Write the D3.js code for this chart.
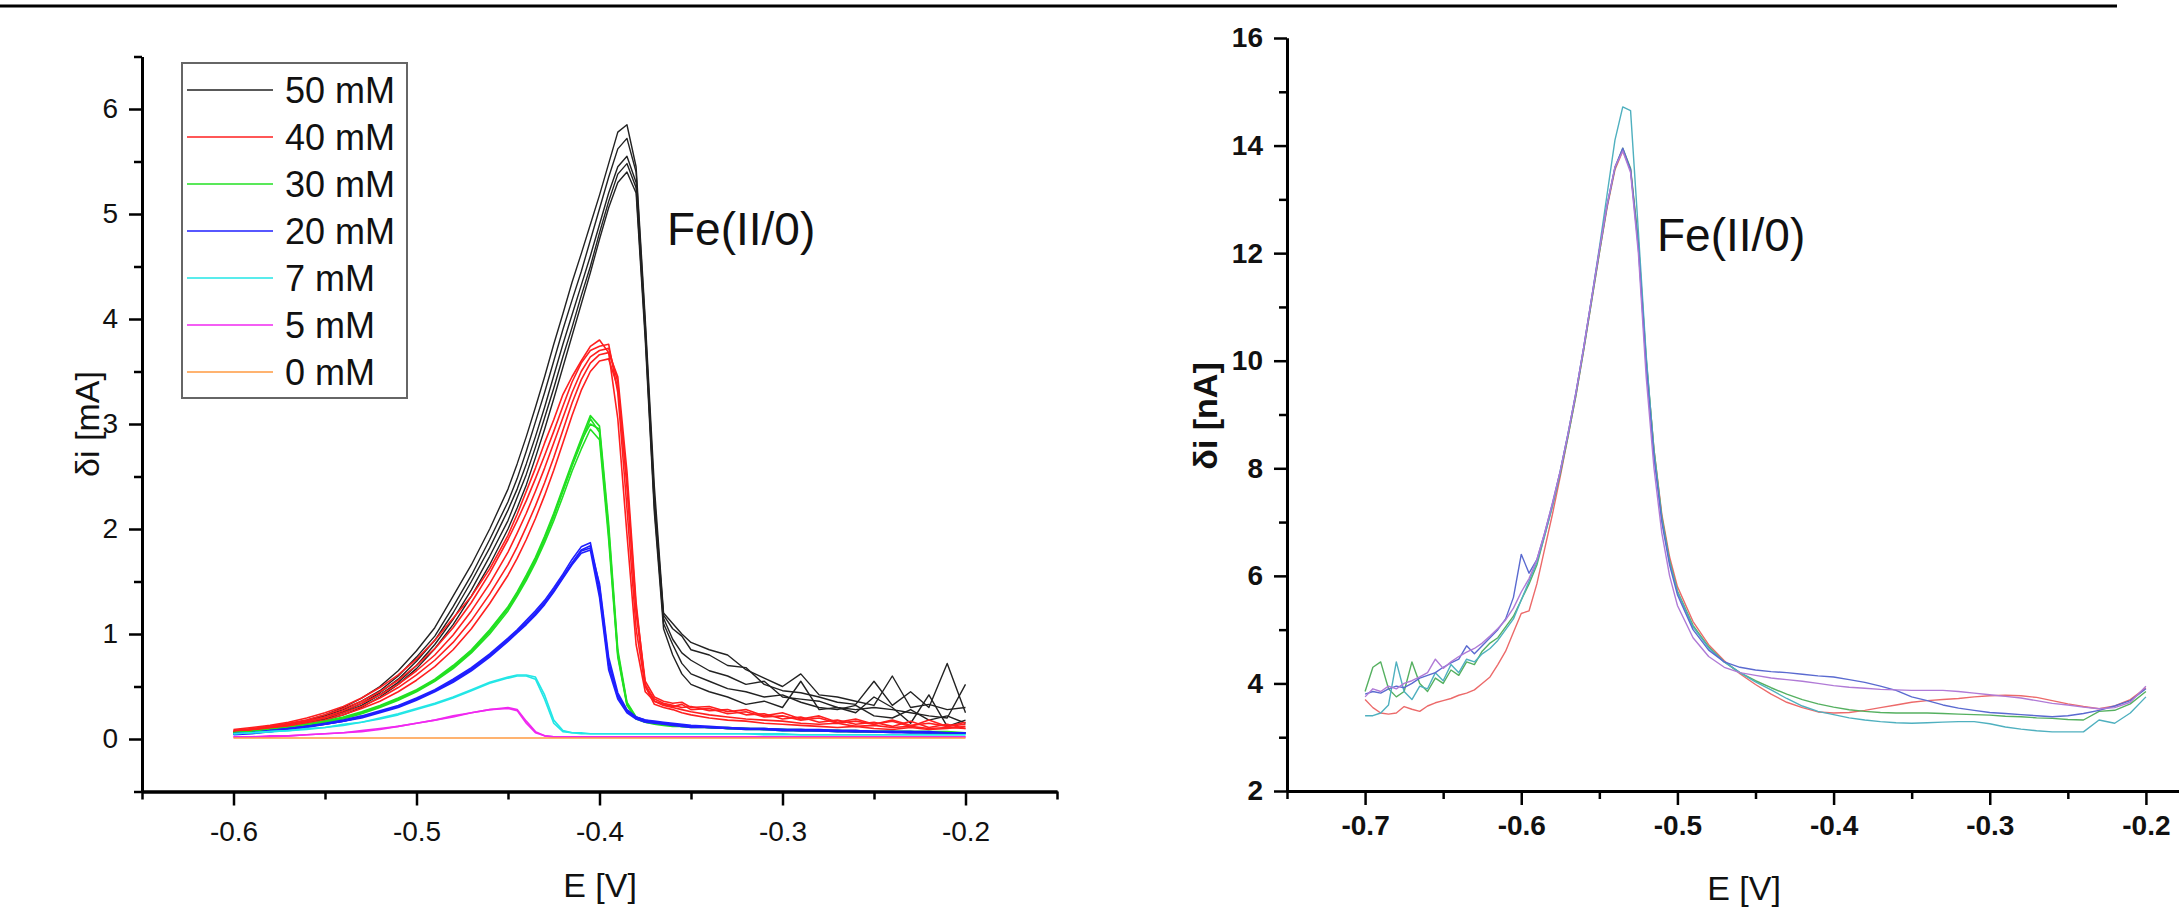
<!DOCTYPE html>
<html>
<head>
<meta charset="utf-8">
<script src="https://cdn.jsdelivr.net/npm/d3@7"></script>
<style>
body { margin: 0; background: #fff; }
svg text { font-family: "Liberation Sans", Arial, sans-serif; fill: #111; }
</style>
</head>
<body>
<svg id="chart" width="2179" height="911"></svg>
<script>
// ---- left panel data (E in V, delta i in mA) ----
const leftE = [-0.600,-0.590,-0.580,-0.570,-0.560,-0.550,-0.540,-0.530,-0.520,-0.510,-0.500,-0.490,-0.480,-0.470,-0.460,-0.450,
	-0.445,-0.440,-0.435,-0.430,-0.425,-0.420,-0.415,-0.410,-0.405,-0.400,-0.395,-0.390,-0.385,-0.380,-0.375,-0.370,-0.365,-0.360,-0.355,-0.350,
	-0.340,-0.330,-0.320,-0.310,-0.300,-0.290,-0.280,-0.270,-0.260,-0.250,-0.240,-0.230,-0.220,-0.210,-0.200];

const mM50 = [
	[0.07,0.09,0.11,0.14,0.18,0.23,0.30,0.39,0.50,0.65,0.84,1.06,1.36,1.66,2.00,2.38,2.62,2.88,3.16,3.45,3.76,4.05,4.35,4.62,4.90,5.18,5.48,5.78,5.85,5.45,4.00,2.40,1.20,1.10,1.00,0.92,0.85,0.80,0.66,0.58,0.50,0.62,0.42,0.40,0.36,0.32,0.60,0.30,0.33,0.28,0.30],
	[0.06,0.08,0.10,0.13,0.17,0.22,0.28,0.36,0.46,0.60,0.78,0.98,1.26,1.56,1.90,2.26,2.48,2.74,3.02,3.30,3.60,3.90,4.18,4.45,4.75,5.05,5.35,5.62,5.72,5.40,3.95,2.30,1.18,1.05,0.98,0.85,0.80,0.70,0.68,0.52,0.46,0.44,0.40,0.35,0.33,0.55,0.32,0.45,0.30,0.72,0.25],
	[0.07,0.08,0.10,0.12,0.16,0.20,0.26,0.34,0.44,0.57,0.74,0.94,1.20,1.50,1.82,2.18,2.38,2.62,2.88,3.16,3.46,3.76,4.04,4.32,4.60,4.90,5.20,5.45,5.55,5.30,3.90,2.25,1.15,0.95,0.82,0.75,0.65,0.60,0.52,0.55,0.40,0.38,0.36,0.30,0.28,0.30,0.28,0.25,0.22,0.20,0.52],
	[0.06,0.07,0.09,0.12,0.15,0.19,0.25,0.32,0.42,0.54,0.70,0.90,1.14,1.42,1.74,2.08,2.30,2.52,2.78,3.06,3.34,3.64,3.92,4.22,4.50,4.82,5.12,5.38,5.48,5.25,3.85,2.20,1.10,0.90,0.72,0.62,0.55,0.48,0.45,0.40,0.42,0.35,0.30,0.28,0.32,0.22,0.20,0.28,0.18,0.22,0.15],
	[0.06,0.07,0.09,0.11,0.14,0.18,0.23,0.30,0.40,0.52,0.67,0.86,1.09,1.36,1.66,2.00,2.20,2.42,2.68,2.95,3.24,3.54,3.84,4.14,4.44,4.76,5.06,5.30,5.40,5.20,3.80,2.15,1.05,0.80,0.62,0.52,0.45,0.40,0.33,0.36,0.30,0.55,0.28,0.30,0.25,0.40,0.30,0.15,0.42,0.12,0.18]
];
const mM40 = [
	[0.09,0.11,0.13,0.16,0.20,0.25,0.31,0.39,0.49,0.61,0.76,0.94,1.15,1.36,1.62,1.94,2.14,2.36,2.58,2.82,3.04,3.28,3.45,3.60,3.74,3.80,3.68,3.05,1.95,0.90,0.45,0.36,0.33,0.31,0.33,0.28,0.29,0.24,0.26,0.21,0.22,0.18,0.20,0.15,0.17,0.14,0.18,0.13,0.15,0.12,0.14],
	[0.08,0.10,0.12,0.15,0.18,0.23,0.29,0.36,0.45,0.56,0.70,0.86,1.06,1.30,1.58,1.90,2.08,2.27,2.48,2.70,2.93,3.17,3.40,3.58,3.70,3.74,3.76,3.30,2.20,1.05,0.50,0.38,0.34,0.32,0.30,0.31,0.27,0.28,0.23,0.24,0.19,0.21,0.16,0.18,0.14,0.16,0.12,0.17,0.11,0.14,0.10],
	[0.08,0.09,0.11,0.14,0.17,0.21,0.27,0.34,0.42,0.52,0.65,0.80,0.99,1.22,1.48,1.78,1.96,2.15,2.36,2.58,2.82,3.06,3.30,3.50,3.64,3.70,3.72,3.40,2.40,1.20,0.52,0.36,0.32,0.30,0.28,0.26,0.23,0.21,0.19,0.18,0.17,0.15,0.14,0.15,0.12,0.13,0.11,0.12,0.10,0.11,0.10],
	[0.07,0.09,0.10,0.13,0.16,0.20,0.25,0.31,0.39,0.49,0.61,0.75,0.92,1.13,1.38,1.66,1.83,2.02,2.22,2.44,2.68,2.94,3.20,3.42,3.58,3.66,3.68,3.45,2.55,1.30,0.50,0.33,0.30,0.28,0.25,0.23,0.20,0.18,0.17,0.15,0.14,0.13,0.12,0.11,0.12,0.10,0.09,0.11,0.09,0.10,0.12],
	[0.07,0.08,0.10,0.12,0.15,0.18,0.23,0.29,0.36,0.45,0.56,0.69,0.85,1.05,1.29,1.56,1.72,1.90,2.10,2.32,2.56,2.82,3.08,3.32,3.50,3.60,3.62,3.35,2.45,1.25,0.55,0.40,0.36,0.34,0.35,0.30,0.31,0.26,0.28,0.22,0.25,0.19,0.22,0.16,0.19,0.14,0.17,0.12,0.18,0.12,0.16]
];
const mM30 = [
	[0.06,0.07,0.09,0.11,0.13,0.16,0.20,0.25,0.31,0.38,0.46,0.56,0.68,0.83,1.02,1.24,1.38,1.53,1.70,1.90,2.12,2.36,2.60,2.82,3.05,2.92,1.95,0.80,0.33,0.20,0.17,0.15,0.14,0.13,0.12,0.12,0.11,0.10,0.10,0.09,0.09,0.08,0.08,0.08,0.07,0.07,0.07,0.07,0.07,0.06,0.06],
	[0.06,0.07,0.09,0.11,0.14,0.17,0.21,0.26,0.32,0.39,0.47,0.57,0.70,0.85,1.04,1.26,1.40,1.56,1.73,1.93,2.15,2.39,2.63,2.86,3.08,2.98,2.05,0.85,0.35,0.21,0.17,0.15,0.14,0.13,0.13,0.12,0.11,0.11,0.10,0.10,0.09,0.09,0.08,0.08,0.08,0.07,0.07,0.07,0.07,0.07,0.06],
	[0.05,0.06,0.08,0.10,0.13,0.15,0.19,0.24,0.30,0.37,0.45,0.55,0.67,0.82,1.00,1.22,1.36,1.51,1.68,1.87,2.08,2.31,2.55,2.76,2.95,2.85,1.90,0.78,0.32,0.19,0.16,0.14,0.13,0.12,0.12,0.11,0.11,0.10,0.09,0.09,0.08,0.08,0.08,0.07,0.07,0.07,0.07,0.06,0.06,0.06,0.06],
	[0.06,0.07,0.08,0.10,0.13,0.16,0.20,0.25,0.31,0.38,0.46,0.56,0.69,0.84,1.03,1.25,1.39,1.54,1.71,1.91,2.13,2.37,2.61,2.84,3.00,2.95,2.00,0.82,0.34,0.20,0.16,0.15,0.14,0.13,0.12,0.12,0.11,0.10,0.10,0.09,0.09,0.08,0.08,0.08,0.07,0.07,0.07,0.07,0.06,0.06,0.06]
];
const mM20 = [
	[0.05,0.06,0.08,0.10,0.12,0.14,0.17,0.21,0.26,0.31,0.38,0.46,0.56,0.67,0.80,0.95,1.03,1.11,1.20,1.30,1.42,1.55,1.68,1.80,1.84,1.40,0.70,0.40,0.26,0.20,0.17,0.16,0.15,0.14,0.13,0.12,0.11,0.10,0.10,0.09,0.09,0.08,0.08,0.08,0.07,0.07,0.07,0.06,0.06,0.06,0.06],
	[0.05,0.06,0.08,0.10,0.12,0.15,0.18,0.22,0.27,0.32,0.39,0.47,0.57,0.68,0.81,0.96,1.04,1.13,1.22,1.32,1.44,1.57,1.71,1.83,1.87,1.45,0.74,0.42,0.27,0.21,0.18,0.16,0.15,0.14,0.13,0.12,0.11,0.11,0.10,0.10,0.09,0.09,0.08,0.08,0.08,0.07,0.07,0.07,0.06,0.06,0.06],
	[0.04,0.05,0.07,0.09,0.11,0.14,0.17,0.20,0.25,0.30,0.37,0.45,0.54,0.65,0.78,0.93,1.01,1.09,1.18,1.28,1.40,1.53,1.66,1.77,1.80,1.35,0.66,0.38,0.25,0.19,0.16,0.15,0.14,0.13,0.12,0.11,0.11,0.10,0.09,0.09,0.08,0.08,0.08,0.07,0.07,0.07,0.06,0.06,0.06,0.06,0.05],
	[0.05,0.06,0.07,0.09,0.12,0.14,0.17,0.21,0.26,0.31,0.38,0.46,0.55,0.66,0.79,0.94,1.02,1.10,1.19,1.29,1.41,1.54,1.67,1.79,1.82,1.48,0.78,0.44,0.28,0.21,0.18,0.17,0.16,0.15,0.14,0.13,0.12,0.11,0.10,0.10,0.09,0.09,0.09,0.08,0.08,0.07,0.07,0.07,0.07,0.06,0.06]
];
const mM7 = [
	[0.05,0.06,0.07,0.08,0.09,0.11,0.13,0.16,0.19,0.23,0.28,0.33,0.39,0.46,0.53,0.58,0.60,0.60,0.57,0.38,0.15,0.07,0.06,0.05,0.05,0.05,0.05,0.05,0.05,0.05,0.05,0.05,0.05,0.05,0.05,0.05,0.05,0.05,0.05,0.04,0.04,0.04,0.04,0.04,0.04,0.04,0.04,0.04,0.04,0.04,0.04],
	[0.05,0.06,0.07,0.08,0.10,0.11,0.14,0.16,0.20,0.24,0.29,0.34,0.40,0.47,0.54,0.59,0.61,0.61,0.59,0.42,0.18,0.08,0.06,0.06,0.05,0.05,0.05,0.05,0.05,0.05,0.05,0.05,0.05,0.05,0.05,0.05,0.05,0.05,0.05,0.05,0.05,0.04,0.04,0.04,0.04,0.04,0.04,0.04,0.04,0.04,0.04]
];
const mM5 = [
	[0.02,0.02,0.03,0.03,0.04,0.05,0.06,0.07,0.09,0.12,0.15,0.18,0.21,0.25,0.28,0.29,0.27,0.15,0.06,0.03,0.02,0.02,0.02,0.02,0.02,0.02,0.02,0.02,0.02,0.02,0.02,0.02,0.02,0.02,0.02,0.02,0.02,0.02,0.02,0.02,0.02,0.02,0.02,0.02,0.02,0.02,0.02,0.02,0.02,0.02,0.02],
	[0.02,0.02,0.02,0.03,0.04,0.05,0.06,0.08,0.10,0.12,0.15,0.18,0.22,0.25,0.28,0.30,0.28,0.17,0.07,0.03,0.02,0.02,0.02,0.02,0.02,0.02,0.02,0.02,0.02,0.02,0.02,0.02,0.02,0.02,0.02,0.02,0.02,0.02,0.02,0.02,0.02,0.02,0.02,0.02,0.02,0.02,0.02,0.02,0.02,0.02,0.02]
];
const mM0 = [
	[0.01,0.01,0.01,0.01,0.01,0.01,0.01,0.01,0.01,0.01,0.01,0.01,0.01,0.01,0.01,0.01,0.01,0.01,0.01,0.01,0.01,0.01,0.01,0.01,0.01,0.01,0.01,0.01,0.01,0.01,0.01,0.01,0.01,0.01,0.01,0.01,0.01,0.01,0.01,0.01,0.01,0.01,0.01,0.01,0.01,0.01,0.01,0.01,0.01,0.01,0.01]
];

const legendLabels = ['50 mM', '40 mM', '30 mM', '20 mM', '7 mM', '5 mM', '0 mM'];
const leftColors = ['#222222', '#ff1f1f', '#22e022', '#1f1fff', '#22e6e6', '#f028f0', '#ff9a40'];
const leftGroups = [mM50, mM40, mM30, mM20, mM7, mM5, mM0];

const leftXTicks = [-0.6, -0.5, -0.4, -0.3, -0.2];
const leftXMinor = [-0.65, -0.55, -0.45, -0.35, -0.25, -0.15];
const leftYTicks = [0, 1, 2, 3, 4, 5, 6];
const leftYMinor = [-0.5, 0.5, 1.5, 2.5, 3.5, 4.5, 5.5, 6.5];

// ---- right panel data (E in V, delta i in nA) ----
const rightE = [-0.700,-0.695,-0.690,-0.685,-0.680,-0.675,-0.670,-0.665,-0.660,-0.655,-0.650,-0.645,-0.640,-0.635,-0.630,-0.625,-0.620,-0.615,-0.610,-0.605,
	-0.600,-0.595,-0.590,-0.585,-0.580,-0.575,-0.570,-0.565,-0.560,-0.555,-0.550,-0.545,-0.540,-0.535,-0.530,-0.525,-0.520,-0.515,-0.510,-0.505,-0.500,
	-0.490,-0.480,-0.470,-0.460,-0.450,-0.440,-0.430,-0.420,-0.410,-0.400,-0.390,-0.380,-0.370,-0.360,-0.350,-0.340,-0.330,-0.320,-0.310,-0.300,
	-0.290,-0.280,-0.270,-0.260,-0.250,-0.240,-0.230,-0.220,-0.210,-0.200];

const scanRed = [3.70,3.55,3.45,3.43,3.45,3.57,3.52,3.48,3.58,3.64,3.68,3.72,3.78,3.82,3.88,4.00,4.12,4.35,4.60,4.95,
	5.30,5.35,5.85,6.50,7.15,7.85,8.60,9.35,10.20,11.10,12.00,12.85,13.55,13.90,13.55,12.20,10.00,8.35,7.15,6.35,5.80,
	5.15,4.72,4.42,4.18,3.98,3.80,3.65,3.55,3.47,3.45,3.46,3.50,3.55,3.60,3.65,3.68,3.70,3.72,3.75,3.77,
	3.78,3.77,3.74,3.68,3.62,3.57,3.53,3.58,3.70,3.92];
const scanGreen = [3.85,4.30,4.40,3.90,3.75,3.85,4.40,4.00,3.85,4.10,4.00,4.25,4.15,4.40,4.35,4.60,4.75,4.85,5.05,5.25,
	5.55,5.85,6.20,6.75,7.30,7.90,8.60,9.35,10.20,11.10,12.00,12.88,13.58,13.95,13.58,12.20,10.05,8.35,7.10,6.28,5.72,
	5.08,4.68,4.40,4.20,4.05,3.92,3.80,3.70,3.62,3.56,3.51,3.48,3.46,3.45,3.45,3.45,3.44,3.43,3.42,3.41,
	3.39,3.38,3.36,3.35,3.33,3.32,3.48,3.50,3.62,3.85];
const scanTeal = [3.40,3.40,3.45,3.60,4.40,3.85,3.70,3.95,3.90,4.20,4.05,4.35,4.20,4.45,4.40,4.55,4.65,4.80,5.00,5.20,
	5.55,5.90,6.25,6.75,7.30,7.95,8.65,9.40,10.25,11.15,12.10,13.10,14.10,14.72,14.65,12.40,10.10,8.30,7.05,6.25,5.70,
	5.05,4.66,4.40,4.20,4.03,3.88,3.72,3.58,3.48,3.42,3.36,3.32,3.29,3.27,3.26,3.27,3.28,3.29,3.29,3.25,
	3.19,3.15,3.12,3.10,3.10,3.10,3.32,3.26,3.45,3.75];
const scanBlue = [3.80,3.85,3.82,3.90,3.95,3.92,4.00,4.10,4.15,4.20,4.30,4.38,4.45,4.70,4.55,4.70,4.85,5.00,5.20,5.60,
	6.40,6.05,6.30,6.80,7.35,7.95,8.65,9.40,10.25,11.15,12.05,12.90,13.60,13.95,13.55,12.10,9.90,8.20,7.00,6.20,5.65,
	5.00,4.62,4.40,4.30,4.25,4.22,4.20,4.17,4.14,4.12,4.07,4.02,3.95,3.87,3.75,3.68,3.60,3.54,3.50,3.46,
	3.44,3.42,3.40,3.38,3.40,3.44,3.50,3.58,3.68,3.90];
const scanViolet = [3.75,3.90,3.85,3.95,3.90,4.00,4.05,4.12,4.20,4.45,4.28,4.40,4.50,4.58,4.65,4.75,4.88,5.02,5.18,5.40,
	5.70,5.95,6.30,6.80,7.35,7.95,8.65,9.40,10.25,11.15,12.05,12.90,13.60,13.90,13.50,12.00,9.70,8.00,6.80,6.00,5.45,
	4.85,4.50,4.30,4.20,4.15,4.10,4.07,4.04,4.00,3.96,3.93,3.91,3.89,3.88,3.87,3.87,3.87,3.85,3.82,3.79,
	3.76,3.73,3.68,3.63,3.60,3.56,3.53,3.55,3.65,3.95];

const rightScans = [scanRed, scanGreen, scanTeal, scanBlue, scanViolet];
const rightColors = ['#ec6a6a', '#55b060', '#4fb0bf', '#5a6ad0', '#b07ad6'];

const rightXTicks = [-0.7, -0.6, -0.5, -0.4, -0.3, -0.2];
const rightXMinor = [-0.75, -0.65, -0.55, -0.45, -0.35, -0.25, -0.15];
const rightYTicks = [2, 4, 6, 8, 10, 12, 14, 16];
const rightYMinor = [3, 5, 7, 9, 11, 13, 15];

// ---- drawing ----
const svg = d3.select('#chart');

svg.append('line')
	.attr('x1', 0).attr('x2', 2117).attr('y1', 6).attr('y2', 6)
	.attr('stroke', '#000').attr('stroke-width', 3);

function drawAxes(x, y, opts) {
	const g = svg.append('g');
	const bottom = y.range()[0];
	const left = x.range()[0];

	g.append('g').attr('transform', `translate(0,${bottom})`)
		.call(d3.axisBottom(x).tickValues(opts.xMinor).tickSize(8).tickSizeOuter(0).tickFormat(''));
	g.append('g').attr('transform', `translate(${left},0)`)
		.call(d3.axisLeft(y).tickValues(opts.yMinor).tickSize(8).tickSizeOuter(0).tickFormat(''));

	g.append('g').attr('transform', `translate(0,${bottom})`)
		.call(d3.axisBottom(x).tickValues(opts.xTicks).tickSize(14).tickSizeOuter(0).tickPadding(opts.xPad)
			.tickFormat(d => d.toFixed(1)));
	g.append('g').attr('transform', `translate(${left},0)`)
		.call(d3.axisLeft(y).tickValues(opts.yTicks).tickSize(13).tickSizeOuter(0).tickPadding(11)
			.tickFormat(d => d));

	g.selectAll('.domain').attr('stroke', '#000').attr('stroke-width', 3);
	g.selectAll('.tick line').attr('stroke', '#000').attr('stroke-width', 2.5);
	g.selectAll('.tick text')
		.attr('font-size', 28)
		.attr('font-weight', opts.bold ? 'bold' : 'normal')
		.attr('font-family', '"Liberation Sans", Arial, sans-serif')
		.attr('fill', '#1a1a1a');
	return g;
}

// left panel
const lx = d3.scaleLinear().domain([-0.65, -0.15]).range([142, 1057]);
const ly = d3.scaleLinear().domain([-0.5, 6.5]).range([791.5, 56.5]);

const leftLine = d3.line().x((d, i) => lx(leftE[i])).y(d => ly(d));
const leftPlot = svg.append('g');
leftGroups.forEach((traces, k) => {
	leftPlot.append('g').selectAll('path').data(traces).enter().append('path')
		.attr('d', leftLine)
		.attr('fill', 'none')
		.attr('stroke', leftColors[k])
		.attr('stroke-width', k === 0 ? 1.4 : 1.6)
		.attr('stroke-linejoin', 'round');
});

drawAxes(lx, ly, { xTicks: leftXTicks, xMinor: leftXMinor, yTicks: leftYTicks, yMinor: leftYMinor, xPad: 16, bold: false });

const legend = svg.append('g');
legend.append('rect')
	.attr('x', 182).attr('y', 63).attr('width', 225).attr('height', 335)
	.attr('fill', '#fff').attr('stroke', '#666').attr('stroke-width', 2);
const rows = legend.selectAll('g.row').data(legendLabels).enter().append('g')
	.attr('transform', (d, i) => `translate(0,${90 + i * 47})`);
rows.append('line')
	.attr('x1', 187).attr('x2', 273).attr('y1', 0).attr('y2', 0)
	.attr('stroke', (d, i) => leftColors[i]).attr('stroke-width', 1.6);
rows.append('text')
	.attr('x', 285).attr('y', 13)
	.attr('font-size', 36)
	.text(d => d);

svg.append('text')
	.attr('x', 667).attr('y', 245)
	.attr('font-size', 46)
	.text('Fe(II/0)');

svg.append('text')
	.attr('transform', 'translate(99,424) rotate(-90)')
	.attr('text-anchor', 'middle')
	.attr('font-size', 34)
	.text('δi [mA]');

svg.append('text')
	.attr('x', 600).attr('y', 897)
	.attr('text-anchor', 'middle')
	.attr('font-size', 34)
	.text('E [V]');

// right panel
const rx = d3.scaleLinear().domain([-0.75, -0.15]).range([1287, 2224]);
const ry = d3.scaleLinear().domain([2, 16]).range([791, 38]);

const rightLine = d3.line().x((d, i) => rx(rightE[i])).y(d => ry(d));
svg.append('g').selectAll('path').data(rightScans).enter().append('path')
	.attr('d', rightLine)
	.attr('fill', 'none')
	.attr('stroke', (d, i) => rightColors[i])
	.attr('stroke-width', 1.4)
	.attr('stroke-linejoin', 'round');

drawAxes(rx, ry, { xTicks: rightXTicks, xMinor: rightXMinor, yTicks: rightYTicks, yMinor: rightYMinor, xPad: 10, bold: true });

svg.append('text')
	.attr('x', 1657).attr('y', 251)
	.attr('font-size', 46)
	.text('Fe(II/0)');

svg.append('text')
	.attr('transform', 'translate(1217,416) rotate(-90)')
	.attr('text-anchor', 'middle')
	.attr('font-size', 34)
	.attr('font-weight', 'bold')
	.text('δi [nA]');

svg.append('text')
	.attr('x', 1744).attr('y', 900)
	.attr('text-anchor', 'middle')
	.attr('font-size', 34)
	.text('E [V]');
</script>
</body>
</html>
